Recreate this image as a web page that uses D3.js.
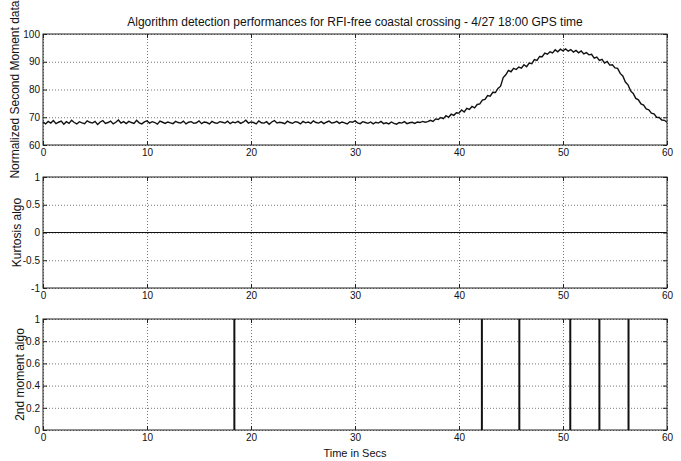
<!DOCTYPE html>
<html>
<head>
<meta charset="utf-8">
<script src="https://cdn.jsdelivr.net/npm/d3@7"></script>
<style>
  body { margin: 0; background: #fff; }
  svg text { font-family: Arial, "Liberation Sans", sans-serif; fill: #111; }
  .tick text { font-family: "Liberation Sans Narrow", "Arial Narrow", Arial, sans-serif; font-size: 10px; }
  .grid line { stroke: #777; stroke-dasharray: 1,2; }
  .grid path { display: none; }
  .inner path { display: none; }
  .inner line { stroke: #222; }
  .lbl path { display: none; }
</style>
</head>
<body>
<svg id="chart"></svg>
<script>
// sampling of the second moment trace, seconds
var sampleStep = 0.25

var secondMoment = [
  68.3, 67.6, 68.5, 67.9, 68.8, 67.7, 68.2, 68.6, 67.5, 68.4,
  67.8, 68.9, 68.1, 67.6, 68.4, 68.0, 67.7, 68.7, 68.2, 67.9,
  68.5, 67.4, 68.3, 68.8, 67.8, 68.1, 68.6, 67.6, 68.2, 69.0,
  67.9, 68.4, 67.7, 68.5, 68.1, 67.8, 68.9, 68.0, 67.6, 68.3, 68.7,
  67.9, 68.4, 68.1, 67.5, 68.6, 68.2, 67.8, 68.3, 68.0, 67.7,
  68.5, 68.1, 67.9, 68.6, 67.6, 68.2, 68.4, 67.8, 68.0, 68.7,
  67.7, 68.3, 68.1, 67.6, 68.5, 68.0, 67.8, 68.4, 68.2, 67.9,
  68.6, 67.7, 68.3, 68.0, 68.5, 67.8, 68.2, 68.9, 67.9, 68.3,
  68.1, 67.6, 68.7, 68.0, 67.9, 68.4, 67.5, 68.3, 68.8, 67.9,
  68.2, 68.0, 67.7, 68.6, 68.1, 67.8, 68.4, 68.2, 67.6, 68.5,
  68.0, 68.3, 67.8, 68.7, 68.1, 67.9, 68.4, 67.7, 68.2, 68.6,
  67.9, 68.1, 68.5, 67.8, 68.3, 68.0, 67.6, 68.4, 68.2, 68.7,
  68.0, 67.7, 68.4, 68.1, 67.8, 68.3, 67.6, 68.2, 67.9, 68.5,
  67.7, 68.0, 67.6, 68.3, 67.8, 67.5, 68.1, 67.9, 68.4, 67.7,
  68.0, 68.2, 67.8, 68.3, 68.1, 68.5, 68.2, 68.4,
  68.9, 68.5, 69.4, 69.2, 69.9, 69.5, 70.6, 70.0, 71.1, 70.7, 71.6, 71.5,
  72.6, 71.9, 73.2, 72.8, 73.9, 73.4, 74.6, 74.8, 76.2, 76.4, 77.8, 77.6, 79.0, 78.9, 80.4,
  81.2, 84.3, 85.3, 86.9, 86.4, 87.6, 87.2, 88.1, 87.7, 88.9, 88.2, 89.5, 89.3,
  90.8, 90.5, 91.9, 91.8, 93.1, 92.7, 93.6, 93.2, 94.3, 93.6, 94.5, 93.9,
  94.6, 93.8, 94.4, 93.5, 94.1, 93.2, 93.9, 92.8, 93.3, 92.5, 92.7, 91.3,
  91.7, 90.5, 90.9, 89.5, 90.1, 88.8, 88.9, 87.8, 87.6, 85.8, 84.9, 82.7,
  81.7, 79.5, 78.6, 76.8, 76.3, 74.8, 74.4, 73.0, 72.7, 71.5, 71.2, 70.0, 69.9, 69.0, 68.9, 68.2
]

// kurtosis algo output: nothing flagged
var kurtosisTimes = [0, 60]
var kurtosisValues = [0, 0]

// 2nd moment algo detections (value 1 at these times)
var detectionTimes = [18.4, 42.2, 45.8, 50.7, 53.5, 56.3]

var xTicks = [0, 10, 20, 30, 40, 50, 60]
var yTicksTop = [60, 70, 80, 90, 100]
var yTicksMid = [-1, -0.5, 0, 0.5, 1]
var yTicksBot = [0, 0.2, 0.4, 0.6, 0.8, 1]

var outerWidth = 681, outerHeight = 461
var left = 43, right = 667
var panelHeight = 111
var panelTops = [34, 177, 319]

var svg = d3.select('svg#chart')
    .attr('width', outerWidth)
    .attr('height', outerHeight)

var xScale = d3.scaleLinear().domain([0, 60]).range([0, right - left])
var innerW = right - left

function makePanel(top, yDomain, yTicks, yLabel, labelX) {
    var g = svg.append('g').attr('transform', 'translate(' + left + ',' + top + ')')
    var yScale = d3.scaleLinear().domain(yDomain).range([panelHeight, 0])

    // dotted grid
    g.append('g').attr('class', 'grid')
        .attr('transform', 'translate(0,' + panelHeight + ')')
        .call(d3.axisBottom(xScale).tickValues(xTicks).tickSize(-panelHeight).tickFormat(''))
    g.append('g').attr('class', 'grid')
        .call(d3.axisLeft(yScale).tickValues(yTicks).tickSize(-innerW).tickFormat(''))

    // tick marks inside the box, matlab style
    g.append('g').attr('class', 'inner').attr('transform', 'translate(0,' + panelHeight + ')')
        .call(d3.axisBottom(xScale).tickValues(xTicks).tickSize(-4).tickFormat(''))
    g.append('g').attr('class', 'inner')
        .call(d3.axisTop(xScale).tickValues(xTicks).tickSize(-4).tickFormat(''))
    g.append('g').attr('class', 'inner')
        .call(d3.axisLeft(yScale).tickValues(yTicks).tickSize(-4).tickFormat(''))
    g.append('g').attr('class', 'inner').attr('transform', 'translate(' + innerW + ',0)')
        .call(d3.axisRight(yScale).tickValues(yTicks).tickSize(-4).tickFormat(''))

    // tick labels
    g.append('g').attr('class', 'lbl').attr('transform', 'translate(0,' + panelHeight + ')')
        .call(d3.axisBottom(xScale).tickValues(xTicks).tickSize(0).tickPadding(4).tickFormat(d3.format('d')))
        .selectAll('line').remove()
    g.append('g').attr('class', 'lbl')
        .call(d3.axisLeft(yScale).tickValues(yTicks).tickSize(0).tickPadding(3).tickFormat(function(d) { return String(d) }))
        .selectAll('line').remove()

    g.append('rect')
        .attr('width', innerW).attr('height', panelHeight)
        .attr('fill', 'none').attr('stroke', '#222').attr('stroke-width', 1)

    svg.append('text')
        .attr('transform', 'translate(' + labelX + ',' + (top + panelHeight / 2) + ') rotate(-90)')
        .attr('text-anchor', 'middle')
        .attr('dy', '0.35em')
        .style('font-size', '12px')
        .text(yLabel)

    return {g: g, y: yScale}
}

var p1 = makePanel(panelTops[0], [60, 100], yTicksTop, 'Normalized Second Moment data', 15)
var p2 = makePanel(panelTops[1], [-1, 1], yTicksMid, 'Kurtosis algo', 17)
var p3 = makePanel(panelTops[2], [0, 1], yTicksBot, '2nd moment algo', 20)

var line1 = d3.line()
    .x(function(d, i) { return xScale(i * sampleStep) })
    .y(function(d) { return p1.y(d) })

p1.g.append('path')
    .datum(secondMoment)
    .attr('d', line1)
    .attr('fill', 'none')
    .attr('stroke', '#111')
    .attr('stroke-width', 1.4)

p2.g.append('path')
    .datum(kurtosisValues)
    .attr('d', d3.line()
        .x(function(d, i) { return xScale(kurtosisTimes[i]) })
        .y(function(d) { return p2.y(d) }))
    .attr('fill', 'none')
    .attr('stroke', '#111')
    .attr('stroke-width', 1.2)

p3.g.selectAll('.det')
    .data(detectionTimes)
    .enter()
    .append('line')
    .attr('class', 'det')
    .attr('x1', function(d) { return xScale(d) })
    .attr('x2', function(d) { return xScale(d) })
    .attr('y1', p3.y(0))
    .attr('y2', p3.y(1))
    .attr('stroke', '#111')
    .attr('stroke-width', 2)

svg.append('text')
    .attr('x', (left + right) / 2)
    .attr('y', 26)
    .attr('text-anchor', 'middle')
    .style('font-size', '12px')
    .text('Algorithm detection performances for RFI-free coastal crossing - 4/27 18:00 GPS time')

svg.append('text')
    .attr('x', (left + right) / 2)
    .attr('y', 457)
    .attr('text-anchor', 'middle')
    .style('font-size', '11px')
    .text('Time in Secs')
</script>
</body>
</html>
